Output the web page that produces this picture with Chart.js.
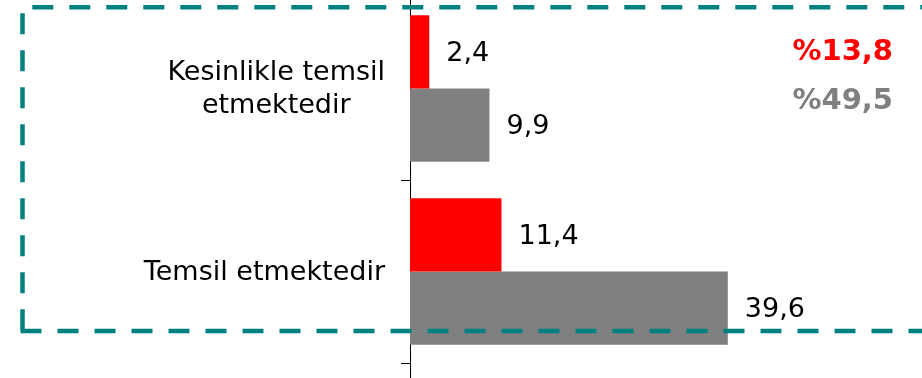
<!DOCTYPE html>
<html>
<head>
<meta charset="utf-8">
<script src="https://cdn.jsdelivr.net/npm/chart.js@4.4.0/dist/chart.umd.min.js"></script>
<style>
  html, body { margin: 0; padding: 0; background: #fff; }
  #frame { position: relative; width: 922px; height: 378px; overflow: hidden; }
  #box { position: absolute; left: 0; top: -3px; width: 922px; height: 549px; }
</style>
</head>
<body>
<div id="frame"><div id="box"><canvas id="chart"></canvas></div></div>
<script>
// categories (third slot is the part of the chart that is cut off below)
const categories = [['Kesinlikle temsil', 'etmektedir'], 'Temsil etmektedir', ''];
const redValues = [2.4, 11.4];
const grayValues = [9.9, 39.6];
const totals = [13.8, 49.5];   // red total, gray total

const FONT = '"DejaVu Sans", Verdana, sans-serif';
const fmt = v => v.toFixed(1).replace('.', ',');

// labels, value texts, totals and the dashed frame
const overlay = {
    id: 'overlay',
    afterDatasetsDraw(chart) {
        const ctx = chart.ctx;
        const yScale = chart.scales.y;
        ctx.save();

        // category labels, each block right-aligned, lines centred inside it
        ctx.font = '27px ' + FONT;
        ctx.fillStyle = '#000';
        ctx.textAlign = 'center';
        ctx.textBaseline = 'middle';
        categories.forEach((lab, i) => {
            const lines = Array.isArray(lab) ? lab : [lab];
            const w = Math.max(...lines.map(l => ctx.measureText(l).width));
            const cx = 385 - w / 2;
            const cy = yScale.getPixelForValue(i) + 1;
            lines.forEach((l, k) => {
                ctx.fillText(l, cx, cy + (k - (lines.length - 1) / 2) * 33);
            });
        });

        // value labels next to bars
        ctx.textAlign = 'left';
        chart.data.datasets.forEach((ds, d) => {
            chart.getDatasetMeta(d).data.forEach((bar, i) => {
                ctx.fillText(fmt(ds.data[i]), bar.x + 17, bar.y + 2);
            });
        });

        // totals
        ctx.font = 'bold 29px ' + FONT;
        ctx.textAlign = 'right';
        ctx.fillStyle = '#ff0000';
        ctx.fillText('%' + fmt(totals[0]), 893, 55);
        ctx.fillStyle = '#808080';
        ctx.fillText('%' + fmt(totals[1]), 893, 104);

        // dashed teal frame
        ctx.strokeStyle = 'rgb(0,128,128)';
        ctx.lineWidth = 4.5;
        ctx.setLineDash([21, 16]);
        ctx.beginPath();
        ctx.moveTo(32.3, 10.2); ctx.lineTo(960, 10.2);
        ctx.moveTo(22.5, 16.3); ctx.lineTo(22.5, 336.5);
        ctx.moveTo(20.5, 334);  ctx.lineTo(960, 334);
        ctx.stroke();

        ctx.restore();
    }
};

new Chart(document.getElementById('chart'), {
    type: 'bar',
    data: {
        labels: categories,
        datasets: [
            { label: 'Seri 1', data: redValues, backgroundColor: '#ff0000' },
            { label: 'Seri 2', data: grayValues, backgroundColor: '#808080' }
        ]
    },
    options: {
        indexAxis: 'y',
        responsive: true,
        maintainAspectRatio: false,
        animation: false,
        layout: { padding: 0 },
        categoryPercentage: 0.8,
        barPercentage: 1.0,
        plugins: {
            legend: { display: false },
            tooltip: { enabled: false }
        },
        scales: {
            x: { display: false, min: 0, max: 63.8 },
            y: {
                afterFit: s => { s.width = 410; },
                ticks: { display: false },
                grid: { drawOnChartArea: false, drawTicks: true, tickLength: 9, color: '#000', lineWidth: 1 },
                border: { color: '#000', width: 1 }
            }
        }
    },
    plugins: [overlay]
});
</script>
</body>
</html>
